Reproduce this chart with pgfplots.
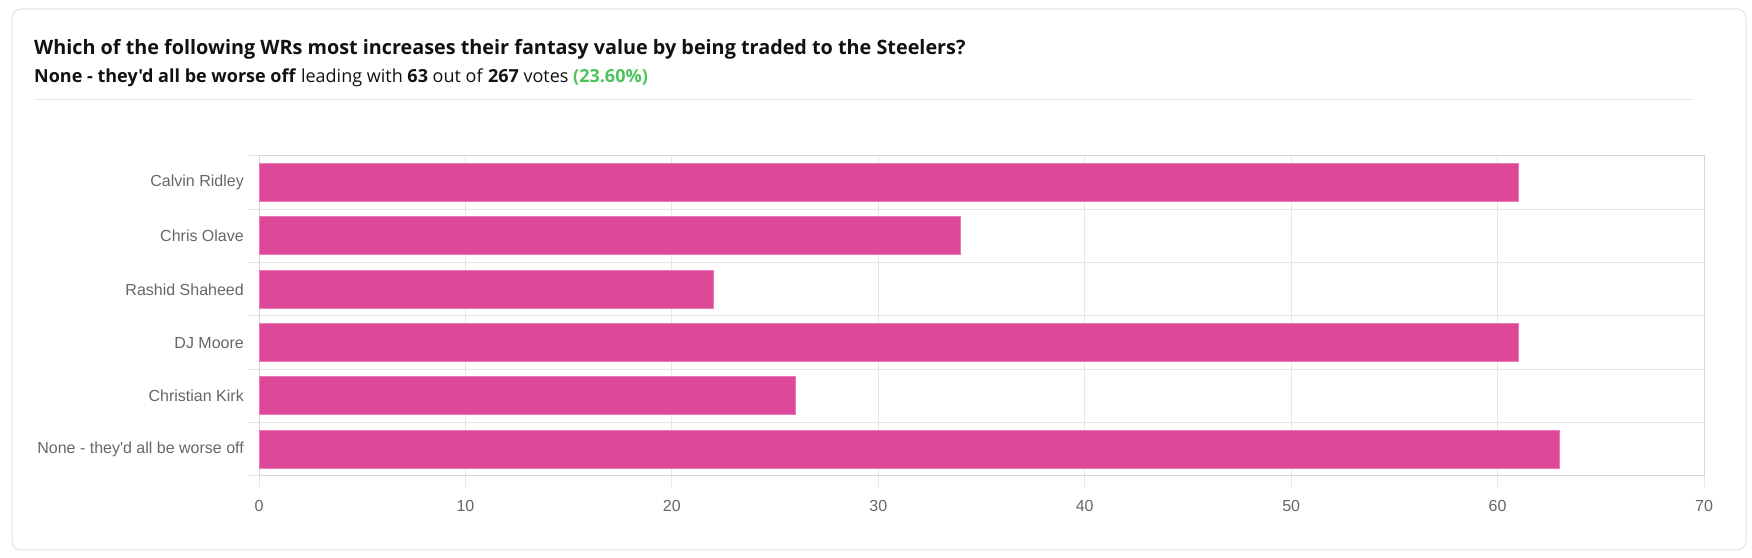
\documentclass[border=0pt]{standalone}
\usepackage{fontspec}
\setmainfont{Liberation Sans}[Ligatures=TeXOff]
\newfontfamily\titlefont{Open Sans}[Ligatures=TeXOff]
\usepackage{pgfplots}
\pgfplotsset{compat=1.18}
\definecolor{barpink}{RGB}{222,72,152}
\definecolor{baredge}{RGB}{236,120,182}
\definecolor{gridgray}{RGB}{230,230,230}
\definecolor{axisgray}{RGB}{215,215,215}
\definecolor{labgray}{RGB}{102,102,102}
\definecolor{cardgray}{RGB}{226,226,226}
\definecolor{votegreen}{RGB}{76,195,92}
\definecolor{titleblack}{RGB}{17,17,17}
\begin{document}
\begin{tikzpicture}[x=1bp,y=1bp]
\useasboundingbox (0,0) rectangle (1752,558);
\draw[cardgray, line width=1bp, rounded corners=9bp] (12,8) rectangle (1746,549);
\node[anchor=base west, inner sep=0pt, text=titleblack] at (34,503)
  {\titlefont\fontsize{19.8bp}{24bp}\selectfont\bfseries Which of the following WRs most increases their fantasy value by being traded to the Steelers?};
\node[anchor=base west, inner sep=0pt, text=titleblack] at (34,475)
  {\titlefont\fontsize{18bp}{22bp}\selectfont\textbf{None - they'd all be worse off} leading with \textbf{63} out of \textbf{267} votes \textcolor{votegreen}{\textbf{(23.60\%)}}};
\draw[gridgray, line width=1bp] (34,458) -- (1694,458);
\begin{axis}[
  at={(259bp,82bp)}, anchor=south west,
  width=1445bp, height=320bp, scale only axis,
  xbar, bar width=38bp,
  xmin=0, xmax=70, xtick={0,10,...,70},
  ymin=-0.5, ymax=5.5, y dir=reverse,
  ytick={-0.5,0.5,1.5,2.5,3.5,4.5,5.5},
  yticklabels={},
  extra y ticks={0,1,2,3,4,5},
  extra y tick labels={Calvin Ridley,Chris Olave,Rashid Shaheed,DJ Moore,Christian Kirk,None - they'd all be worse off},
  extra y tick style={grid=none, major tick length=0pt, tick style={draw=none},
     yticklabel style={inner sep=0pt, xshift=-15bp}},
  tick style={draw=gridgray, line width=1bp},
  tick align=outside,
  major tick length=11bp,
  xmajorgrids, ymajorgrids,
  major grid style={draw=gridgray, line width=1bp},
  axis line style={draw=axisgray, line width=1bp},
  tick pos=left,
  ticklabel style={font=\fontsize{16bp}{19bp}\selectfont, text=labgray},
  /pgf/number format/assume math mode=true,
  xticklabel style={inner sep=0pt, yshift=-13bp},
]
\addplot[fill=barpink, draw=baredge, line width=1bp] coordinates {
  (61,0) (34,1) (22,2) (61,3) (26,4) (63,5)
};
\end{axis}
\end{tikzpicture}
\end{document}
